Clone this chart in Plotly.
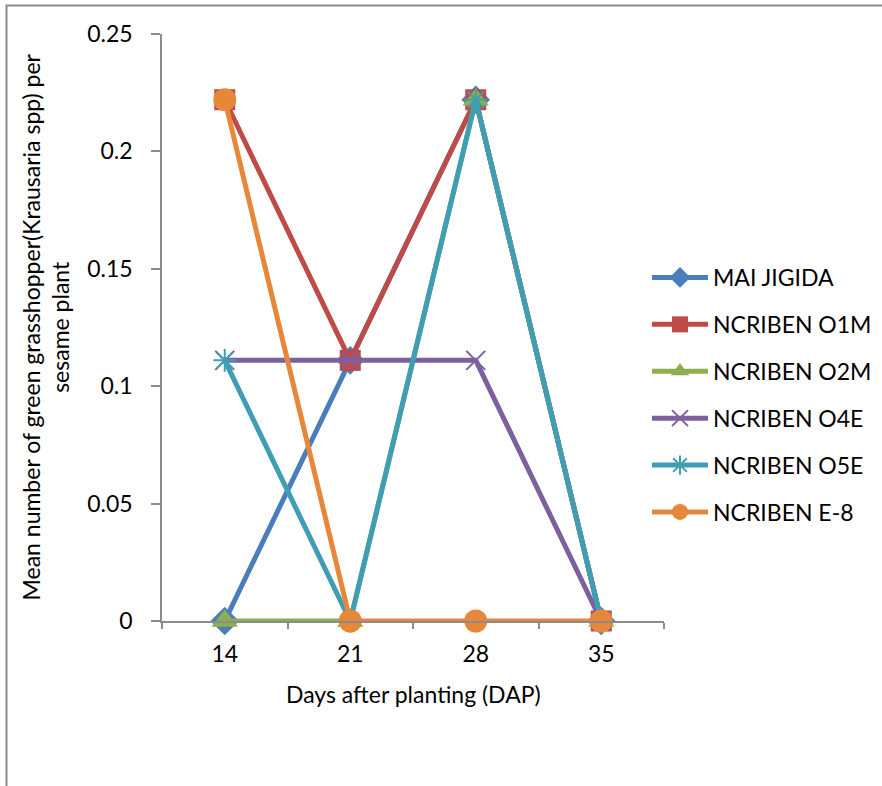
import plotly.graph_objects as go

days = ["14", "21", "28", "35"]
series_names = ["MAI JIGIDA", "NCRIBEN O1M", "NCRIBEN O2M", "NCRIBEN O4E", "NCRIBEN O5E", "NCRIBEN E-8"]
mai_jigida = [0, 0.111, 0.222, 0]
ncriben_o1m = [0.222, 0.111, 0.222, 0]
ncriben_o2m = [0, 0, 0.222, 0]
ncriben_o4e = [0.111, 0.111, 0.111, 0]
ncriben_o5e = [0.111, 0, 0.222, 0]
ncriben_e8 = [0.222, 0, 0, 0]
y_ticks = [0, 0.05, 0.1, 0.15, 0.2, 0.25]

values = [mai_jigida, ncriben_o1m, ncriben_o2m, ncriben_o4e, ncriben_o5e, ncriben_e8]
colors = ["#4A7EBB", "#BE4B48", "#8DB04E", "#7D60A0", "#3F9DB4", "#E6873A"]
symbols = ["diamond", "square", "triangle-up", "x-thin-open", "asterisk-open", "circle"]
sizes = [22, 21, 23, 19, 19, 23]

W, H = 882, 786
L, R, T, B = 162, 218, 34, 165
pw, ph = W - L - R, H - T - B

FONT = "Lato"
FS = 23

fig = go.Figure()
for name, vals, c, s, sz in zip(series_names, values, colors, symbols, sizes):
    marker = dict(symbol=s, size=sz, color=c)
    if s.endswith("open"):
        marker["line"] = dict(color=c, width=2)
    fig.add_trace(go.Scatter(
        x=days, y=vals, name=name, mode="lines+markers",
        line=dict(color=c, width=5), marker=marker, legendgroup=name,
        cliponaxis=False,
    ))

def px_x(p):
    return (p - L) / pw

def px_y(p):
    return (H - B - p) / ph

fig.update_layout(
    width=W, height=H,
    margin=dict(l=L, r=R, t=T, b=B, autoexpand=False),
    paper_bgcolor="white", plot_bgcolor="white",
    font=dict(family=FONT, size=FS, color="black"),
    showlegend=True,
    legend=dict(x=px_x(647), y=px_y(256), xanchor="left", yanchor="top",
                font=dict(family=FONT, size=FS, color="black"),
                itemwidth=56,
                tracegroupgap=14, bgcolor="rgba(0,0,0,0)"),
    xaxis=dict(
        type="category", range=[-0.5, 3.5], showline=True, linecolor="#8C8C8C", linewidth=1.5,
        ticks="outside", tickson="boundaries", ticklen=6, tickcolor="#8C8C8C", tickwidth=1.5,
        ticklabelstandoff=12,
        showgrid=False, zeroline=False, tickfont=dict(family=FONT, size=FS),
    ),
    yaxis=dict(
        range=[0, 0.25], tickvals=y_ticks, ticktext=[f"{v:g}" for v in y_ticks],
        showline=True, linecolor="#8C8C8C", linewidth=1.5,
        ticks="outside", ticklen=9, tickcolor="#8C8C8C", tickwidth=1.5,
        ticklabelstandoff=14,
        showgrid=False, zeroline=False, tickfont=dict(family=FONT, size=FS),
    ),
    annotations=[
        dict(text="Mean number of green grasshopper(Krausaria spp) per<br>sesame plant",
             x=px_x(45), y=0.5, xref="paper", yref="paper", textangle=-90,
             showarrow=False, font=dict(family=FONT, size=FS), xanchor="center", yanchor="middle"),
        dict(text="Days after planting (DAP)", x=0.5, y=px_y(694), xref="paper", yref="paper",
             showarrow=False, font=dict(family=FONT, size=FS), xanchor="center", yanchor="middle"),
    ],
    shapes=[
        dict(type="rect", xref="paper", yref="paper",
             x0=px_x(6.5), y0=px_y(900), x1=px_x(1000), y1=px_y(5.5),
             line=dict(color="#8C8C8C", width=2), fillcolor="rgba(0,0,0,0)", layer="below"),
    ],
)

fig.write_html("out.html")
